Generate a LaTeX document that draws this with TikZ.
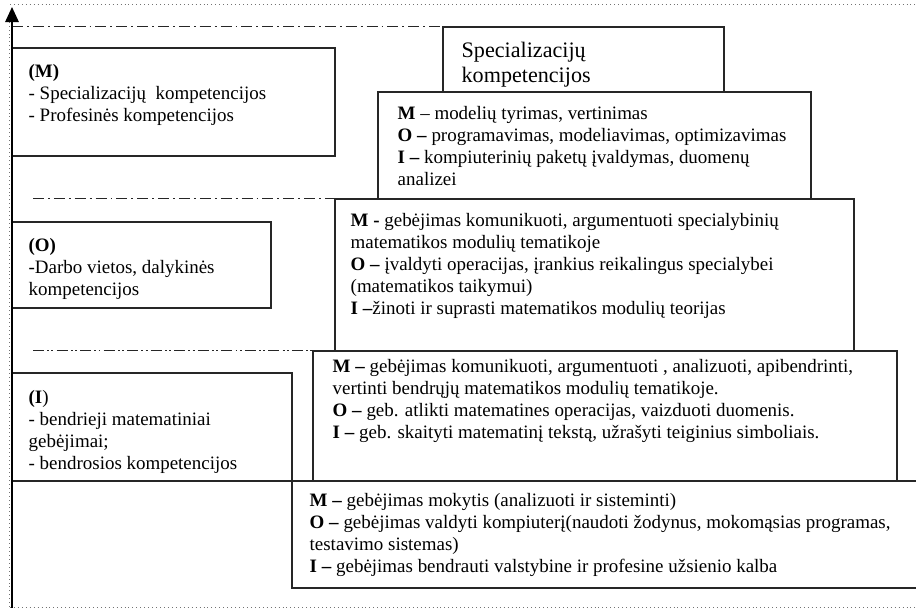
\documentclass[tikz,border=0pt]{standalone}
\usepackage{fontspec}
\setmainfont{Liberation Serif}
\usetikzlibrary{arrows.meta, fit}

\begin{document}
\begin{tikzpicture}[
  x=0.633pt, y=-0.633pt,
  box/.style={draw=black!85, line width=0.8pt, inner sep=0pt},
  txt/.style={anchor=north west, inner sep=0pt, align=left, font=\fontsize{12}{13.8}\selectfont},
  level/.style={black!85, line width=0.9pt, dash pattern=on 7pt off 2.5pt on 1.2pt off 2.5pt},
  level2/.style={black!85, line width=0.9pt, dash pattern=on 7pt off 2pt on 1.2pt off 1.5pt on 1.2pt off 2pt},
  frame/.style={black!55, line width=0.5pt, dotted}
]
  \useasboundingbox (0,0) rectangle (916,611);

  % Frame and axis
  \coordinate (origin) at (12,608);
  \coordinate (top) at (12,7);
  \coordinate (lvlstart) at (33,0);
  \draw[frame] (10,4) -- (916,4);
  \draw[frame] (10,607) -- (916,607);
  \draw[frame] (9,607) -- (9,20);

  % Left column: levels
  \node[box, fit={(12,48) (335,156)}] (mlevel) {};
  \node[box, fit={(12,222) (271,308)}] (olevel) {};
  \node[box, fit={(12,373) (292,481)}] (ilevel) {};

  % Right column: the stepped boxes
  \node[box, fit={(443,27) (724,92)}] (spec) {};
  \node[box, fit={(378,92) (811,199)}] (mcont) {};
  \node[box, fit={(335,199) (854,351)}] (ocont) {};
  \node[box, fit={(313,351) (897,481)}] (icont) {};
  \node[box, fit={(292,481) (940,588)}] (base) {};

  % Level borders
  \draw[level] (origin |- spec.north west) -- (spec.north west);
  \draw[level] (lvlstart |- ocont.north west) -- (ocont.north west);
  \draw[level2] (lvlstart |- icont.north west) -- (icont.north west);

  \draw[-{Triangle[width=8.5pt,length=9.5pt]}, line width=1pt] (origin) -- (top);

  % Texts on the left
  \node[txt] (mtext) at ([shift={(17,17)}]mlevel.north west) {\textbf{(M)}\\
    - Specializacijų\ \ kompetencijos\\
    - Profesinės kompetencijos};
  \node[txt] (otext) at ([shift={(17,17)}]olevel.north west) {\textbf{(O)}\\
    -Darbo vietos, dalykinės\\
    kompetencijos};
  \node[txt] (itext) at ([shift={(17,18)}]ilevel.north west) {\textbf{(I})\\
    - bendrieji matematiniai\\
    gebėjimai;\\
    - bendrosios kompetencijos};

  % Texts on the right
  \node[txt, font=\fontsize{14}{16.1}\selectfont] (spectext) at ([shift={(19,15)}]spec.north west) {Specializacijų\\
    kompetencijos};
  \node[txt] (mconttext) at ([shift={(20,15)}]mcont.north west) {\textbf{M} – modelių tyrimas, vertinimas\\
    \textbf{O –} programavimas, modeliavimas, optimizavimas\\
    \textbf{I –} kompiuterinių paketų įvaldymas, duomenų\\
    analizei};
  \node[txt] (oconttext) at ([shift={(16,15)}]ocont.north west) {\textbf{M -} gebėjimas komunikuoti, argumentuoti specialybinių\\
    matematikos modulių tematikoje\\
    \textbf{O –} įvaldyti operacijas, įrankius reikalingus specialybei\\
    (matematikos taikymui)\\
    \textbf{I –}žinoti ir suprasti matematikos modulių teorijas};
  \node[txt] (iconttext) at ([shift={(20,9)}]icont.north west) {\textbf{M –} gebėjimas komunikuoti, argumentuoti , analizuoti, apibendrinti,\\
    vertinti bendrųjų matematikos modulių tematikoje.\\
    \textbf{O –} geb. atlikti matematines operacijas, vaizduoti duomenis.\\
    \textbf{I –} geb. skaityti matematinį tekstą, užrašyti teiginius simboliais.};
  \node[txt] (basetext) at ([shift={(18,13)}]base.north west) {\textbf{M –} gebėjimas mokytis (analizuoti ir sisteminti)\\
    \textbf{O –} gebėjimas valdyti kompiuterį(naudoti žodynus, mokomąsias programas,\\
    testavimo sistemas)\\
    \textbf{I –} gebėjimas bendrauti valstybine ir profesine užsienio kalba};
\end{tikzpicture}
\end{document}
